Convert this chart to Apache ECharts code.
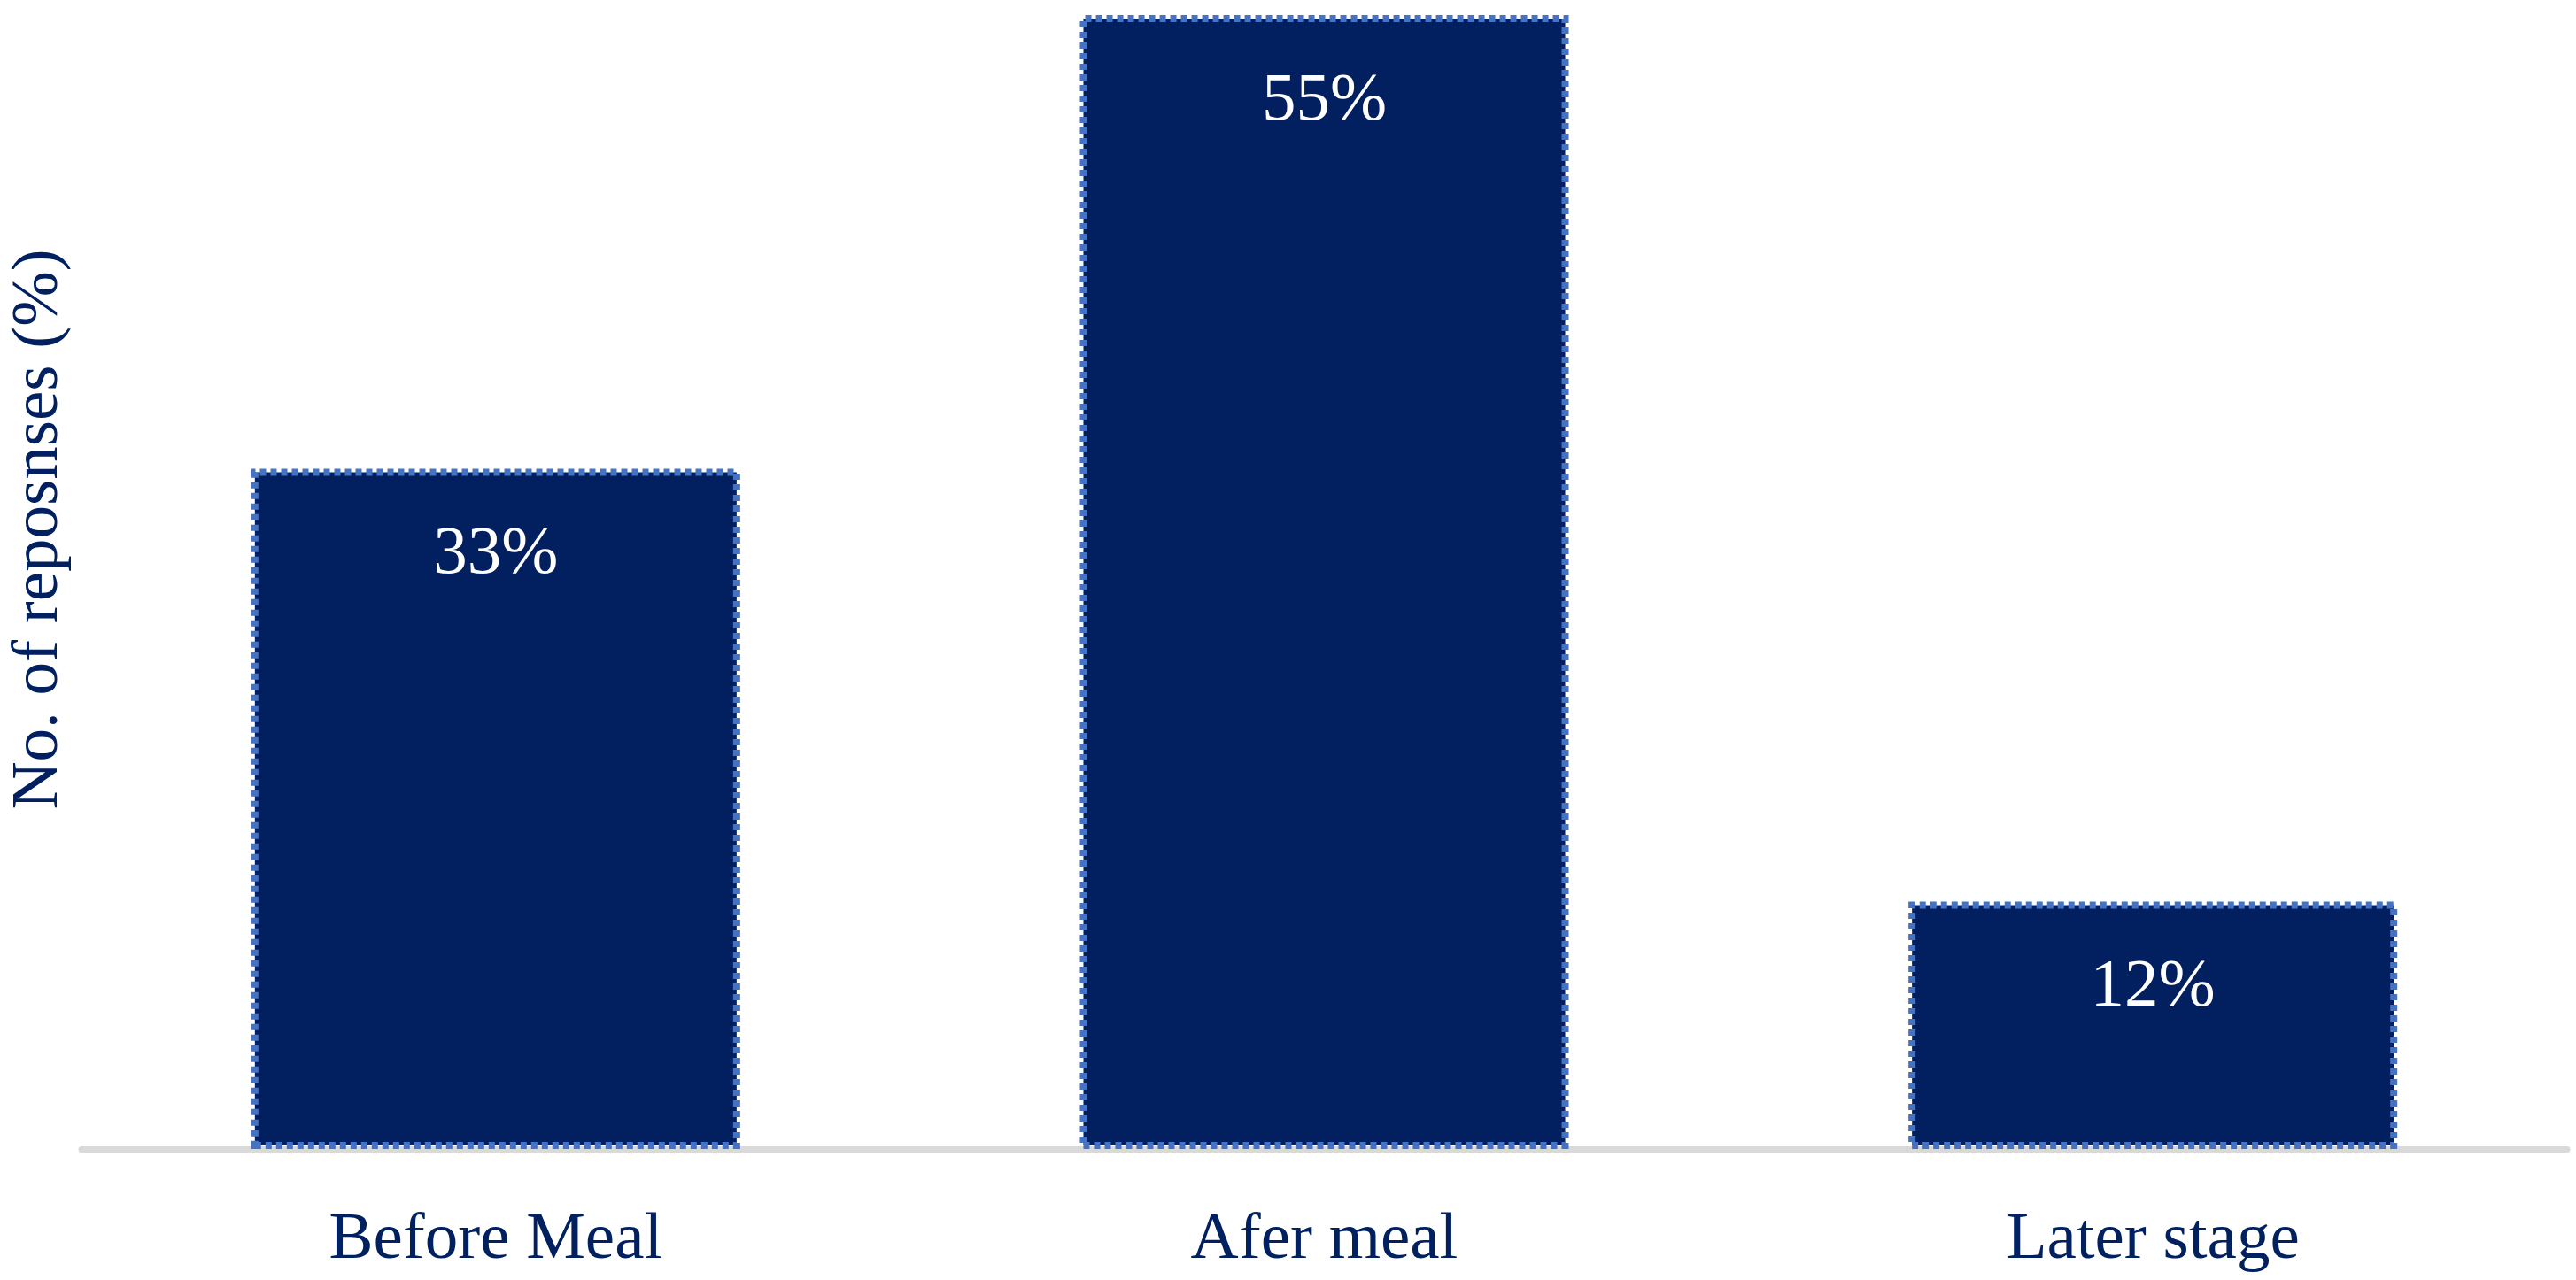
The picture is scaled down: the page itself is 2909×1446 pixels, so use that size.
<!DOCTYPE html>
<html>
<head>
<meta charset="utf-8">
<script src="https://cdn.jsdelivr.net/npm/echarts@6/dist/echarts.min.js"></script>
<style>
html,body{margin:0;padding:0;background:#fff;}
#chart{width:2909px;height:1446px;}
</style>
</head>
<body>
<div id="chart"></div>
<script>
const categories = ['Before Meal', 'Afer meal', 'Later stage'];
const values = [33, 55, 12];
const yTitle = 'No. of reposnses (%)';

const chart = echarts.init(document.getElementById('chart'), null, {renderer: 'canvas'});
const font = '"Liberation Serif", "DejaVu Serif", serif';
chart.setOption({
  animation: false,
  backgroundColor: '#ffffff',
  grid: {left: 92, right: 10, top: 17, bottom: 148, containLabel: false},
  xAxis: {
    type: 'category',
    data: categories,
    axisLine: {show: true, lineStyle: {color: '#D9D9D9', width: 7}},
    axisTick: {show: false},
    axisLabel: {color: '#002060', fontFamily: font, fontSize: 75, margin: 66}
  },
  yAxis: {
    type: 'value',
    min: 0,
    max: 55,
    show: false,
    splitLine: {show: false}
  },
  graphic: [{
    type: 'text',
    x: 44,
    y: 598,
    rotation: Math.PI / 2,
    style: {
      text: yTitle,
      fill: '#002060',
      font: '75px ' + font,
      align: 'center',
      verticalAlign: 'middle'
    }
  }],
  series: [{
    type: 'bar',
    data: values,
    barWidth: '59%',
    itemStyle: {
      color: '#02205F',
      borderColor: '#4472C4',
      borderWidth: 8,
      borderType: [7, 5]
    },
    label: {
      show: true,
      position: 'insideTop',
      distance: 59,
      formatter: '{c}%',
      color: '#ffffff',
      fontFamily: font,
      fontSize: 77
    }
  }]
});
</script>
</body>
</html>
